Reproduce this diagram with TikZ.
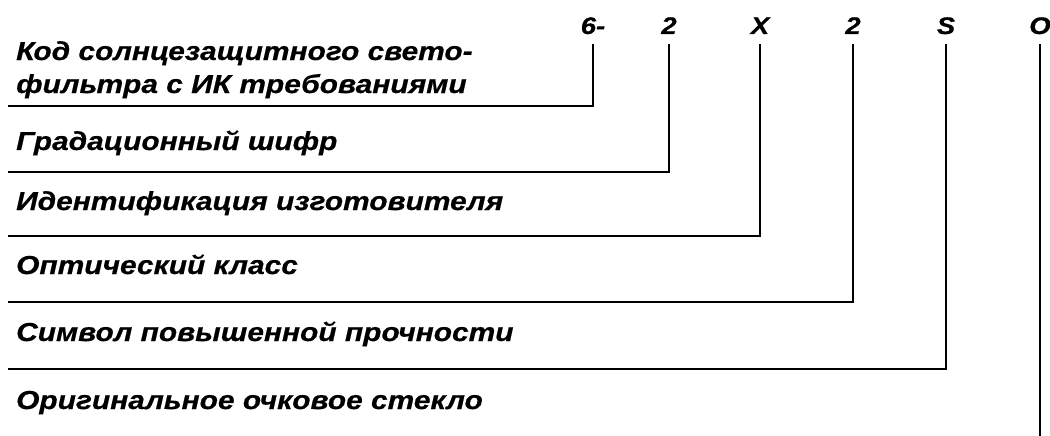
\documentclass[tikz,border=0pt]{standalone}
\usepackage{fontspec}
\setmainfont{Liberation Sans}
\newfontfamily\capfont[FakeStretch=1.15,FakeBold=0.6]{Liberation Sans}
\begin{document}
\begin{tikzpicture}[x=1pt,y=-1pt]
	\tikzstyle{code}=[font=\capfont\fontsize{24}{28}\selectfont\bfseries\itshape,inner sep=0pt,anchor=base]
	\tikzstyle{caption}=[font=\capfont\fontsize{26}{33}\selectfont\bfseries\itshape,inner sep=0pt,anchor=base west,align=left]
	\tikzstyle{edge}=[draw=black,line width=2.2pt]
	\useasboundingbox (0,0) rectangle (1050,436);
	\begin{scope}

	  \node [code] (c1) at (593,34) {6-};
	  \node [code] (c2) at (669,34) {2};
	  \node [code] (c3) at (760,34) {X};
	  \node [code] (c4) at (853,34) {2};
	  \node [code] (c5) at (946,34) {S};
	  \node [code] (c6) at (1040,34) {O};

	  \node [caption] (t1) at (16,93) {Код солнцезащитного свето-\\фильтра с ИК требованиями};
	  \node [caption] (t2) at (16,150) {Градационный шифр};
	  \node [caption] (t3) at (16,210) {Идентификация изготовителя};
	  \node [caption] (t4) at (16,274) {Оптический класс};
	  \node [caption] (t5) at (16,341) {Символ повышенной прочности};
	  \node [caption] (t6) at (16,409) {Оригинальное очковое стекло};

	  \coordinate (e1) at (8,106);
	  \coordinate (e2) at (8,172);
	  \coordinate (e3) at (8,236);
	  \coordinate (e4) at (8,302);
	  \coordinate (e5) at (8,369);
	  \coordinate (e6) at (1040,436);

	  \path[edge] ([yshift=-10pt]c1.south) |- (e1);
	  \path[edge] ([yshift=-10pt]c2.south) |- (e2);
	  \path[edge] ([yshift=-10pt]c3.south) |- (e3);
	  \path[edge] ([yshift=-10pt]c4.south) |- (e4);
	  \path[edge] ([yshift=-10pt]c5.south) |- (e5);
	  \path[edge] ([yshift=-10pt]c6.south) -- (e6);

	\end{scope}
\end{tikzpicture}
\end{document}
